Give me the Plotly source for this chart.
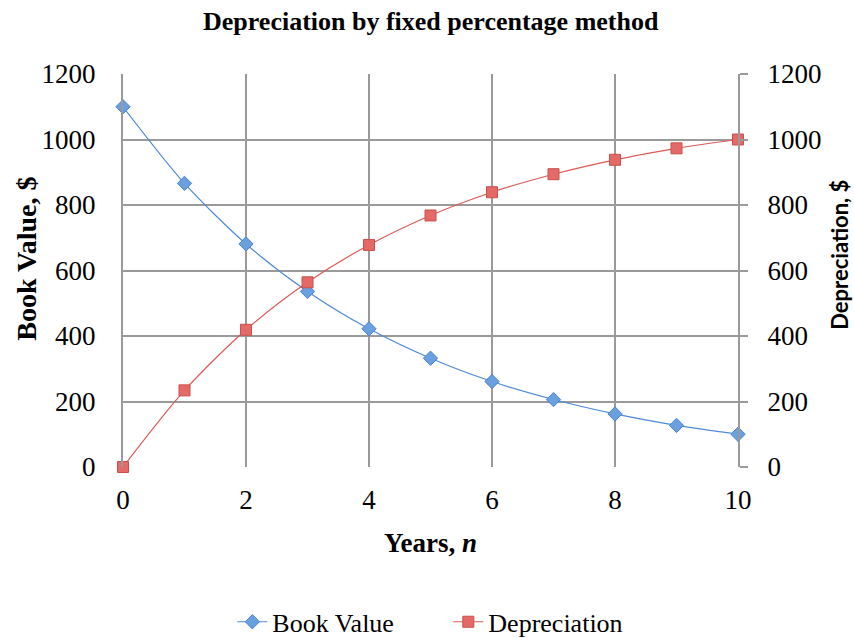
import plotly.graph_objects as go

# Years and values for the fixed-percentage depreciation schedule
years = [0, 1, 2, 3, 4, 5, 6, 7, 8, 9, 10]
book_value = [1100, 866, 681, 536, 422, 332, 261, 206, 162, 127, 100]
depreciation = [0, 234, 419, 564, 678, 768, 839, 894, 938, 973, 1000]
y_ticks = [0, 200, 400, 600, 800, 1000, 1200]
x_ticks = [0, 2, 4, 6, 8, 10]

SERIF = "Liberation Serif, Times New Roman, serif"
GRID = "#9a9a9a"
TICK_SIZE = 27

fig = go.Figure()

fig.add_trace(go.Scatter(
    x=years, y=book_value, name="Book Value",
    mode="lines+markers",
    line=dict(color="#4f8ad6", width=1.2, shape="spline", smoothing=0.8),
    marker=dict(symbol="diamond", size=11, color="#6aa0e0",
                line=dict(color="#4a84cc", width=1)),
    cliponaxis=False,
))

fig.add_trace(go.Scatter(
    x=years, y=depreciation, name="Depreciation",
    mode="lines+markers", yaxis="y2",
    line=dict(color="#dc5a56", width=1.2, shape="spline", smoothing=0.8),
    marker=dict(symbol="square", size=11, color="#e46a68",
                line=dict(color="#c9504c", width=1)),
    cliponaxis=False,
))

fig.update_layout(
    width=854, height=638,
    margin=dict(l=123, r=116, t=74, b=171, autoexpand=False),
    paper_bgcolor="white", plot_bgcolor="white",
    font=dict(family=SERIF, size=TICK_SIZE, color="black"),
    showlegend=True,
    legend=dict(orientation="h", x=0.529, xanchor="center",
                y=-0.394, yanchor="middle",
                font=dict(family=SERIF, size=26),
                entrywidth=171, entrywidthmode="pixels",
                tracegroupgap=0),
    xaxis=dict(range=[0, 10], tickvals=x_ticks, showgrid=True,
               gridcolor=GRID, gridwidth=2, zeroline=False,
               showline=False, ticks="", ticklabelstandoff=14,
               tickfont=dict(family=SERIF, size=TICK_SIZE)),
    yaxis=dict(range=[0, 1200], tickvals=y_ticks, showgrid=True,
               gridcolor=GRID, gridwidth=2, zeroline=False,
               showline=True, linecolor=GRID, linewidth=2,
               ticks="", ticklabelstandoff=20,
               tickfont=dict(family=SERIF, size=TICK_SIZE)),
    yaxis2=dict(range=[0, 1200], tickvals=y_ticks, overlaying="y",
                side="right", showgrid=False, zeroline=False,
                showline=True, linecolor=GRID, linewidth=2,
                ticks="outside", ticklen=8, tickwidth=2, tickcolor=GRID,
                ticklabelstandoff=14,
                tickfont=dict(family=SERIF, size=TICK_SIZE)),
    annotations=[
        dict(text="<b>Depreciation by fixed percentage method</b>",
             xref="paper", yref="paper", x=0.5, y=1.0,
             xanchor="center", yanchor="middle",
             yshift=53, showarrow=False,
             font=dict(family=SERIF, size=26)),
        dict(text="<b>Years, <i>n</i></b>",
             xref="paper", yref="paper", x=0.5, y=0, yshift=-76,
             xanchor="center", yanchor="middle",
             showarrow=False, font=dict(family=SERIF, size=27)),
        dict(text="<b>Book Value, $</b>", textangle=-90,
             xref="paper", yref="paper", x=0, xshift=-96, y=0.53,
             xanchor="center", yanchor="middle",
             showarrow=False, font=dict(family=SERIF, size=28)),
        dict(text="<b>Depreciation, $</b>", textangle=-90,
             xref="paper", yref="paper", x=1, xshift=102, y=0.54,
             xanchor="center", yanchor="middle",
             showarrow=False,
             font=dict(family="Lato, Open Sans, sans-serif", size=22)),
    ],
)

fig.write_html("out.html")
